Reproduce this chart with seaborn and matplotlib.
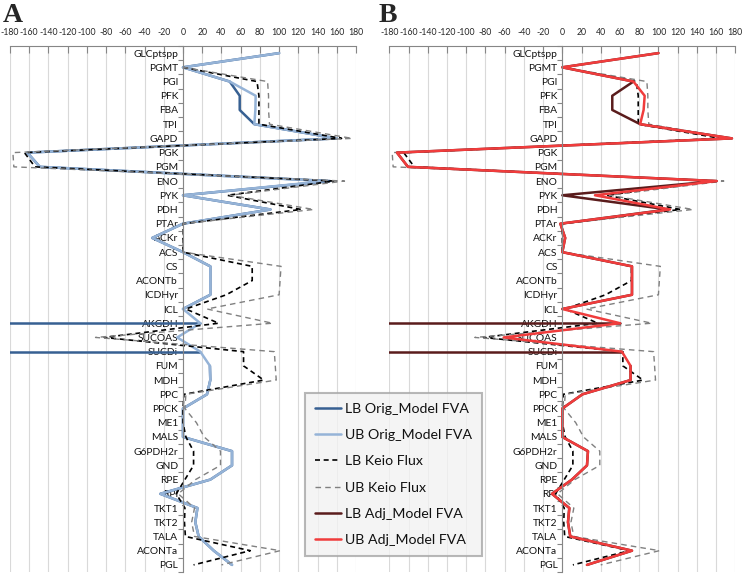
import numpy as np
import pandas as pd
import matplotlib
matplotlib.use("Agg")
import matplotlib.pyplot as plt
import seaborn as sns
from matplotlib.lines import Line2D

# ---------------- data ----------------
reactions = ["GLCptspp", "PGMT", "PGI", "PFK", "FBA", "TPI", "GAPD", "PGK", "PGM", "ENO",
             "PYK", "PDH", "PTAr", "ACKr", "ACS", "CS", "ACONTb", "ICDHyr", "ICL", "AKGDH",
             "SUCOAS", "SUCDi", "FUM", "MDH", "PPC", "PPCK", "ME1", "MALS", "G6PDH2r", "GND",
             "RPE", "RPI", "TKT1", "TKT2", "TALA", "ACONTa", "PGL"]

x_ticks = list(range(-180, 181, 20))

nan = np.nan
keio_lb = [nan, 0, 77, 79, 79, 79, 165, -165, -154, 157,
           46, 123, 0, 0, 0, 72, 72, 45, 3, 37,
           -82, 63, 63, 84, 1, 0, 0, 3, 11, 11,
           2, -7, 2, 1.5, 2.5, 70, 11]
keio_ub = [nan, 0, 88, 89, 89, 90, 176, -177, -176, 168,
           49, 136, 0, 0, 0, 102, 101, 100, 25, 93,
           -91, 95, 96, 97, 3, 2, 14, 22, 39, 39,
           13, -5, 12, 9, 12, 101, 40]

orig_ub = [100, 0, 48.6, 75.6, 75.3, 74.2, 160, -162, -149, 149,
           0, 91, 0, -32, 0, 28.4, 28.4, 28.4, 0, 18,
           -6, 18, 28, 28.4, 25, 0, 0, 0, 51, 51,
           28.4, -23.6, 15, 12.8, 16.3, 32, 51]
orig_lb = [100, 0, 48.6, 59, 59, 74.2, 160, -162, -149, 153,
           0, 91, 0, -32, 0, 28.4, 28.4, 28.4, 0, -1000,
           -6, -1000, 28, 28.4, 25, 0, 0, 0, 51, 51,
           28.4, -23.6, 15, 12.8, 16.3, 32, 51]

adj_ub = [100, 0, 74, 85.7, 84.6, 81, 176.5, -172, -160.6, 160.6,
          34, 112, -2, 3, 0, 72.5, 72.5, 72.5, 0, 60,
          -61, 62, 71, 71, 21, 0, 0, 0, 26.7, 25.7,
          10, -10.7, 7.3, 5.9, 8.3, 72.5, 25.7]
adj_lb = [100, 0, 74, 52, 52, 81, 176.5, -172, -160.6, 160.6,
          0, 110, -2, 3, 0, 72.5, 72.5, 72.5, 0, -1000,
          -61, -1000, 71, 71, 21, 0, 0, 0, 26.7, 25.7,
          10, -10.7, 7.3, 5.9, 8.3, 72.5, 25.7]

XMIN, XMAX = -180, 180

# ---------------- style ----------------
sns.set_theme(style="white")
plt.rcParams["font.family"] = ["Lato", "DejaVu Sans"]

C_LB_ORIG = "#376092"
C_UB_ORIG = "#95B3D7"
C_LB_KEIO = "#000000"
C_UB_KEIO = "#808080"
C_LB_ADJ = "#5a1c1c"
C_UB_ADJ = "#f03c3c"

W, H = 744, 574
fig = plt.figure(figsize=(W / 100, H / 100), dpi=100)
top_px, bot_px = 46, 572
axA = fig.add_axes([10 / W, 1 - bot_px / H, 346 / W, (bot_px - top_px) / H])
axB = fig.add_axes([389.3 / W, 1 - bot_px / H, 346 / W, (bot_px - top_px) / H])


def series_frame(values, ub=None):
    rows = []
    seg = 0
    for i, v in enumerate(values):
        if v is None or np.isnan(v):
            seg += 1
            continue
        if v < XMIN and ub is not None:
            seg += 1
            rows.append((v, i, seg))
            rows.append((ub[i], i, seg))
            seg += 1
            continue
        rows.append((v, i, seg))
    return pd.DataFrame(rows, columns=["flux", "pos", "seg"])


def draw(ax, values, color, lw, dashes=None, ub=None):
    df = series_frame(values, ub)
    sns.lineplot(data=df, x="flux", y="pos", units="seg", estimator=None, sort=False,
                 color=color, lw=lw, ax=ax, legend=False)
    if dashes is not None:
        for ln in ax.lines[-df["seg"].nunique():]:
            ln.set_dashes(dashes)


def style(ax):
    ax.set_xlim(XMIN, XMAX)
    ax.set_ylim(len(reactions) - 0.5, -0.5)
    ax.set_xlabel("")
    ax.set_ylabel("")
    ax.set_xticks(x_ticks)
    ax.set_xticklabels([str(t) for t in x_ticks])
    ax.xaxis.tick_top()
    ax.tick_params(axis="x", direction="in", length=5, width=0.8, color="#868686",
                   labelsize=6.3, labelcolor="#262626", pad=6.5, top=True, bottom=False)
    ax.grid(axis="x", color="#d9d9d9", lw=0.8)
    ax.grid(axis="y", visible=False)
    ax.set_axisbelow(True)
    ax.spines["left"].set_position(("data", 0))
    for s in ["right", "bottom"]:
        ax.spines[s].set_visible(False)
    for s in ["top", "left"]:
        ax.spines[s].set_color("#868686")
        ax.spines[s].set_linewidth(0.8)
    ax.set_yticks(range(len(reactions)))
    ax.set_yticklabels(reactions)
    ax.set_yticks(np.arange(-0.5, len(reactions), 1.0), minor=True)
    ax.tick_params(axis="y", which="major", length=0, pad=3.5, labelsize=7.4,
                   labelcolor="#111111", left=True)
    ax.tick_params(axis="y", which="minor", length=3.5, width=0.8, color="#868686",
                   direction="out", left=True)
    ax.patch.set_alpha(0)


# Panel A
draw(axA, orig_lb, C_LB_ORIG, 1.8, ub=orig_ub)
draw(axA, orig_ub, C_UB_ORIG, 1.8)
draw(axA, keio_lb, C_LB_KEIO, 1.2, dashes=(3, 2.2))
draw(axA, keio_ub, C_UB_KEIO, 1.0, dashes=(4, 3))
style(axA)

# Panel B
draw(axB, keio_lb, C_LB_KEIO, 1.2, dashes=(3, 2.2))
draw(axB, keio_ub, C_UB_KEIO, 1.0, dashes=(4, 3))
draw(axB, adj_lb, C_LB_ADJ, 1.8, ub=adj_ub)
draw(axB, adj_ub, C_UB_ADJ, 1.8)
style(axB)

fig.text(3 / W, 1 - 22 / H, "A", fontsize=20, fontweight="bold",
         family=["Liberation Serif", "DejaVu Serif"], va="baseline", ha="left")
fig.text(379 / W, 1 - 22 / H, "B", fontsize=20, fontweight="bold",
         family=["Liberation Serif", "DejaVu Serif"], va="baseline", ha="left")

handles = [
    Line2D([], [], color=C_LB_ORIG, lw=1.8),
    Line2D([], [], color=C_UB_ORIG, lw=1.8),
    Line2D([], [], color=C_LB_KEIO, lw=1.2, dashes=(3, 2.2)),
    Line2D([], [], color=C_UB_KEIO, lw=1.0, dashes=(4, 3)),
    Line2D([], [], color=C_LB_ADJ, lw=1.8),
    Line2D([], [], color=C_UB_ADJ, lw=1.8),
]
labels = ["LB Orig_Model FVA", "UB Orig_Model FVA", "LB Keio Flux", "UB Keio Flux",
          "LB Adj_Model FVA", "UB Adj_Model FVA"]
leg = fig.legend(handles, labels, loc="center", bbox_to_anchor=(393.5 / W, 1 - 474.5 / H),
                 fontsize=10.2, frameon=True, fancybox=False, labelspacing=1.0,
                 handlelength=1.8, handletextpad=0.3, borderpad=0.7)
leg.get_frame().set_facecolor("#f2f2f2")
leg.get_frame().set_edgecolor("#a6a6a6")
leg.get_frame().set_linewidth(1.5)
for t in leg.get_texts():
    t.set_color("#111111")

fig.savefig("out.png", dpi=100)
